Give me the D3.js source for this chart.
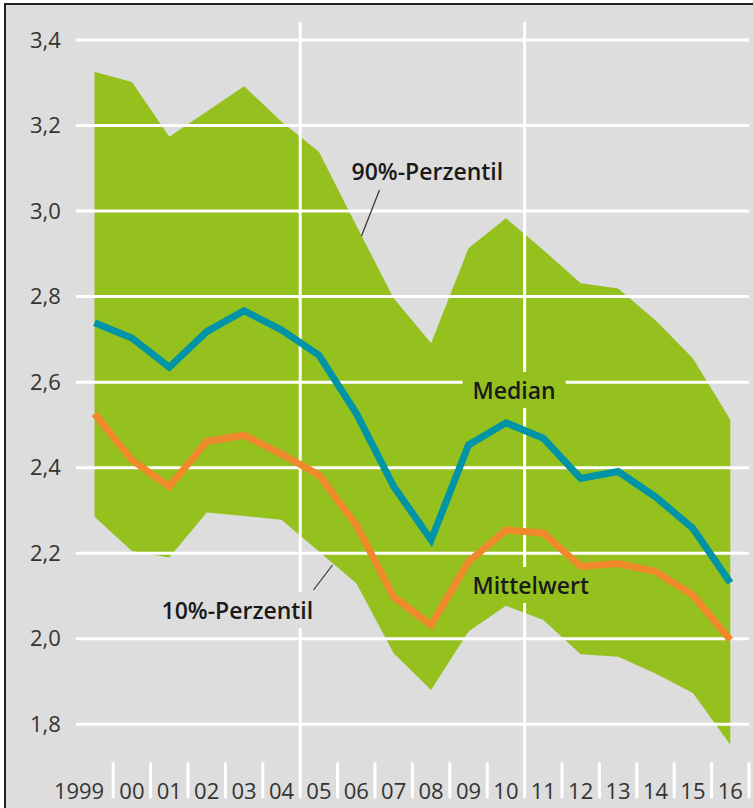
<!DOCTYPE html>
<html>
<head>
<meta charset="utf-8">
<script src="https://cdn.jsdelivr.net/npm/d3@7"></script>
<style>
  body { margin: 0; background: #fff; }
  text { font-family: 'Open Sans', 'Noto Sans', sans-serif; }
</style>
</head>
<body>
<div id="chart"></div>
<script>
// values
const years = [1999, 2000, 2001, 2002, 2003, 2004, 2005, 2006, 2007, 2008, 2009, 2010, 2011, 2012, 2013, 2014, 2015, 2016]
const yearLabels = ['1999', '00', '01', '02', '03', '04', '05', '06', '07', '08', '09', '10', '11', '12', '13', '14', '15', '16']
const p90 = [3.326, 3.302, 3.174, 3.233, 3.292, 3.209, 3.139, 2.966, 2.796, 2.691, 2.913, 2.983, 2.909, 2.831, 2.819, 2.745, 2.656, 2.512]
const p10 = [2.285, 2.205, 2.19, 2.295, 2.287, 2.278, 2.204, 2.13, 1.966, 1.88, 2.017, 2.077, 2.044, 1.964, 1.958, 1.919, 1.873, 1.752]
const median = [2.739, 2.703, 2.635, 2.718, 2.767, 2.722, 2.663, 2.527, 2.356, 2.231, 2.453, 2.505, 2.469, 2.375, 2.391, 2.332, 2.258, 2.131]
const mittelwert = [2.526, 2.418, 2.356, 2.461, 2.476, 2.432, 2.383, 2.266, 2.098, 2.032, 2.18, 2.254, 2.247, 2.169, 2.176, 2.157, 2.102, 1.997]
const yTicks = [1.8, 2.0, 2.2, 2.4, 2.6, 2.8, 3.0, 3.2, 3.4]
const majorBreaks = [2004.5, 2010.5]

const margin = { top: 40, left: 94.5, right: 22.7, bottom: 83.7 }
const width = 753 - margin.left - margin.right
const height = 808 - margin.top - margin.bottom

const svgRoot = d3
  .select('#chart')
  .append('svg')
  .attr('width', 753)
  .attr('height', 808)

// frame (cropped on the right and bottom)
svgRoot
  .append('rect')
  .attr('x', 5)
  .attr('y', 4)
  .attr('width', 800)
  .attr('height', 850)
  .attr('fill', '#dcdddc')
  .attr('stroke', '#222')
  .attr('stroke-width', 2)

const svg = svgRoot
  .append('g')
  .attr('transform', 'translate(' + margin.left + ',' + margin.top + ')')

const x = d3.scaleLinear().domain([1999, 2016]).range([0, width])
const y = d3.scaleLinear().domain([1.8, 3.4]).range([height, 0])

const de = d3.formatLocale({ decimal: ',', thousands: '.', grouping: [3], currency: ['', ' €'] })
const fmt = de.format('.1f')

const rows = years.map((yr, i) => ({
  year: yr,
  p90: p90[i],
  p10: p10[i],
  median: median[i],
  mittelwert: mittelwert[i]
}))

const area = d3
  .area()
  .x(d => x(d.year))
  .y0(d => y(d.p10))
  .y1(d => y(d.p90))

svg
  .append('path')
  .datum(rows)
  .attr('d', area)
  .attr('fill', '#95c11f')

// labels get measured so the white grid can be cut around them
const labels = [
  { text: '90%-Perzentil', x: 257, y: 140 },
  { text: 'Median', x: 378, y: 359 },
  { text: 'Mittelwert', x: 378, y: 554 },
  { text: '10%-Perzentil', x: 67, y: 579 }
]

const defs = svgRoot.append('defs')
const mask = defs.append('mask').attr('id', 'grid-mask').attr('maskUnits', 'userSpaceOnUse')
  .attr('x', -200).attr('y', -200).attr('width', 1200).attr('height', 1200)
mask
  .append('rect')
  .attr('x', -200)
  .attr('y', -200)
  .attr('width', 1200)
  .attr('height', 1200)
  .attr('fill', '#fff')

const grid = svg.append('g').attr('mask', 'url(#grid-mask)')

grid
  .selectAll('.hgrid')
  .data(yTicks)
  .enter()
  .append('line')
  .attr('class', 'hgrid')
  .attr('x1', x(1998.5))
  .attr('x2', x(2016.5))
  .attr('y1', d => y(d))
  .attr('y2', d => y(d))
  .attr('stroke', '#fff')
  .attr('stroke-width', 3)

grid
  .selectAll('.vgrid')
  .data(majorBreaks)
  .enter()
  .append('line')
  .attr('class', 'vgrid')
  .attr('x1', d => x(d))
  .attr('x2', d => x(d))
  .attr('y1', -18)
  .attr('y2', height + 74)
  .attr('stroke', '#fff')
  .attr('stroke-width', 3)

// short separators between the year labels
svg
  .selectAll('.sep')
  .data(years.filter(d => !majorBreaks.includes(d + 0.5)))
  .enter()
  .append('line')
  .attr('class', 'sep')
  .attr('x1', d => x(d + 0.5))
  .attr('x2', d => x(d + 0.5))
  .attr('y1', height + 38)
  .attr('y2', height + 74)
  .attr('stroke', '#fff')
  .attr('stroke-width', 3)

const line = key =>
  d3
    .line()
    .x(d => x(d.year))
    .y(d => y(d[key]))

svg
  .append('path')
  .datum(rows)
  .attr('d', line('mittelwert'))
  .attr('fill', 'none')
  .attr('stroke', '#f0892b')
  .attr('stroke-width', 7)

svg
  .append('path')
  .datum(rows)
  .attr('d', line('median'))
  .attr('fill', 'none')
  .attr('stroke', '#0094a6')
  .attr('stroke-width', 7)

// leader lines
const leaders = [
  [[285, 150], [267, 196]],
  [[238, 525], [219, 550]]
]
svg
  .selectAll('.leader')
  .data(leaders)
  .enter()
  .append('line')
  .attr('class', 'leader')
  .attr('x1', d => d[0][0])
  .attr('y1', d => d[0][1])
  .attr('x2', d => d[1][0])
  .attr('y2', d => d[1][1])
  .attr('stroke', '#333')
  .attr('stroke-width', 1.2)

svg
  .selectAll('.label')
  .data(labels)
  .enter()
  .append('text')
  .attr('class', 'label')
  .text(d => d.text)
  .attr('x', d => d.x)
  .attr('y', d => d.y)
  .attr('font-size', 23)
  .attr('font-weight', 600)
  .attr('fill', '#1a1a1a')
  .each(function(d) {
    const b = this.getBBox()
    // same user space as the grid group, so no extra translate
    mask
      .append('rect')
      .attr('x', b.x - 10)
      .attr('y', b.y - 2)
      .attr('width', b.width + 20)
      .attr('height', b.height + 4)
      .attr('fill', '#000')
  })

// y tick labels
svg
  .selectAll('.ytick')
  .data(yTicks)
  .enter()
  .append('text')
  .attr('class', 'ytick')
  .text(d => fmt(d))
  .attr('x', x(1998.5) - 15)
  .attr('y', d => y(d))
  .attr('dy', '0.35em')
  .attr('text-anchor', 'end')
  .attr('font-size', 22)
  .attr('fill', '#333')

// year labels
svg
  .selectAll('.xtick')
  .data(years)
  .enter()
  .append('text')
  .attr('class', 'xtick')
  .text((d, i) => yearLabels[i])
  .attr('x', (d, i) => (i === 0 ? x(d + 0.5) - 9 : x(d)))
  .attr('y', height + 75)
  .attr('text-anchor', (d, i) => (i === 0 ? 'end' : 'middle'))
  .attr('font-size', 22)
  .attr('fill', '#333')
</script>
</body>
</html>
